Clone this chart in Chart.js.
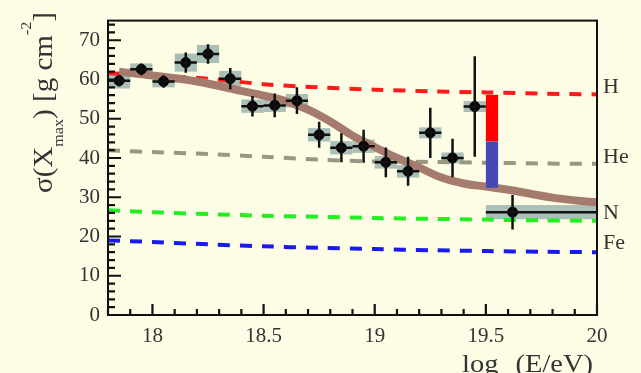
<!DOCTYPE html>
<html>
<head>
<meta charset="utf-8">
<script src="https://cdn.jsdelivr.net/npm/chart.js@4.4.1/dist/chart.umd.min.js"></script>
<style>
  html, body { margin: 0; padding: 0; background: #fdfde6; }
  canvas { display: block; }
</style>
</head>
<body>
<canvas id="c" width="641" height="373"></canvas>
<script>
// measured points
const energy = [17.85, 17.95, 18.05, 18.15, 18.25, 18.35, 18.45, 18.55, 18.65, 18.75, 18.85, 18.95, 19.05, 19.15, 19.25, 19.35, 19.45, 19.62];
const binLo  = [17.80, 17.90, 18.00, 18.10, 18.20, 18.30, 18.40, 18.50, 18.60, 18.70, 18.80, 18.90, 19.00, 19.10, 19.20, 19.30, 19.40, 19.50];
const binHi  = [17.90, 18.00, 18.10, 18.20, 18.30, 18.40, 18.50, 18.60, 18.70, 18.80, 18.90, 19.00, 19.10, 19.20, 19.30, 19.40, 19.50, 20.00];
const sigma  = [59.7, 62.6, 59.5, 64.3, 66.5, 60.2, 53.2, 53.4, 54.6, 45.9, 42.6, 43.0, 38.9, 36.6, 46.4, 40.0, 53.1, 26.2];
const statErr = [1.5, 1.5, 1.6, 2.6, 2.5, 2.7, 2.6, 3.0, 3.4, 3.3, 3.7, 4.2, 3.8, 3.7, 6.4, 4.9, 12.8, 4.4];
const sysErr  = [2.0, 1.5, 1.5, 2.3, 2.3, 2.0, 1.7, 1.7, 1.7, 1.7, 1.7, 1.7, 1.6, 1.6, 1.4, 1.4, 1.4, 1.8];

// model predictions
const modelE = [17.8, 18.0, 18.25, 18.5, 18.75, 19.0, 19.25, 19.5, 19.75, 20.0];
const protonH = [61.6, 61.0, 60.2, 58.8, 58.0, 57.4, 57.0, 56.7, 56.4, 56.2];
const heliumHe = [42.0, 41.5, 41.0, 40.3, 39.6, 39.1, 39.0, 38.8, 38.6, 38.5];
const nitrogenN = [26.7, 26.2, 25.7, 25.3, 25.0, 24.7, 24.5, 24.3, 24.1, 24.0];
const ironFe = [19.0, 18.6, 18.0, 17.5, 17.1, 16.8, 16.5, 16.3, 16.1, 16.0];

// fitted mixture curve
const fitE = [17.85, 18.0, 18.2, 18.4, 18.5, 18.6, 18.7, 18.8, 18.9, 19.0, 19.1, 19.2, 19.3, 19.4, 19.5, 19.6, 19.7, 19.8, 19.9, 20.0];
const fitSigma = [62.0, 61.0, 59.5, 57.1, 55.9, 54.5, 52.3, 49.3, 45.7, 42.8, 40.0, 37.6, 35.0, 33.5, 32.7, 31.9, 30.9, 29.9, 29.2, 28.7];

// p / He fraction bar
const fracBarE = [19.5, 19.555];
const fracRed = [44.2, 56.1];
const fracBlue = [32.4, 44.2];

// labels
const xTicks = [18, 18.5, 19, 19.5, 20];
const yTicks = [0, 10, 20, 30, 40, 50, 60, 70];
const compLabels = ["H", "He", "N", "Fe"];
const compLabelY = [58.0, 40.1, 26.0, 18.3];

const SERIF = "'Liberation Serif', 'Times New Roman', serif";
const pts = (xs, ys) => xs.map((x, i) => ({ x, y: ys[i] }));

function dashed(data, color) {
  return {
    data: pts(modelE, data),
    borderColor: color,
    borderWidth: 4,
    borderDash: [12, 10],
    pointRadius: 0,
    tension: 0.3,
    fill: false
  };
}

function richWidth(ctx, parts, big, small) {
  let w = 0;
  parts.forEach(([t, k]) => {
    ctx.font = (k === 0 ? big : small) + "px " + SERIF;
    w += ctx.measureText(t).width;
  });
  return w;
}

function drawRich(ctx, parts, big, small, subDy, supDy) {
  let x = 0;
  parts.forEach(([t, k]) => {
    ctx.font = (k === 0 ? big : small) + "px " + SERIF;
    const dy = k === 1 ? subDy : (k === -1 ? supDy : 0);
    ctx.fillText(t, x, dy);
    x += ctx.measureText(t).width;
  });
}

const decorPlugin = {
  id: "decor",
  beforeDraw(chart) {
    const ctx = chart.ctx;
    ctx.save();
    ctx.fillStyle = "#fdfde6";
    ctx.fillRect(0, 0, chart.width, chart.height);
    ctx.restore();
  },
  beforeDatasetsDraw(chart) {
    const { ctx, scales: { x, y } } = chart;
    ctx.save();
    ctx.fillStyle = "#aabfb5";
    energy.forEach((e, i) => {
      const x1 = x.getPixelForValue(binLo[i]);
      const x2 = x.getPixelForValue(binHi[i]);
      const y1 = y.getPixelForValue(sigma[i] + sysErr[i]);
      const y2 = y.getPixelForValue(sigma[i] - sysErr[i]);
      ctx.fillRect(x1, y1, x2 - x1, y2 - y1);
    });
    ctx.restore();
  },
  afterDatasetsDraw(chart) {
    const { ctx, scales: { x, y } } = chart;
    ctx.save();
    // error bars
    ctx.strokeStyle = "#111";
    ctx.lineWidth = 2.5;
    ctx.beginPath();
    energy.forEach((e, i) => {
      const px = x.getPixelForValue(e);
      const py = y.getPixelForValue(sigma[i]);
      ctx.moveTo(px, y.getPixelForValue(sigma[i] + statErr[i]));
      ctx.lineTo(px, y.getPixelForValue(sigma[i] - statErr[i]));
      ctx.moveTo(x.getPixelForValue(binLo[i]), py);
      ctx.lineTo(x.getPixelForValue(binHi[i]), py);
    });
    ctx.stroke();
    // fraction bar
    const bx1 = x.getPixelForValue(fracBarE[0]);
    const bx2 = x.getPixelForValue(fracBarE[1]);
    ctx.fillStyle = "#ff0000";
    ctx.fillRect(bx1, y.getPixelForValue(fracRed[1]), bx2 - bx1,
      y.getPixelForValue(fracRed[0]) - y.getPixelForValue(fracRed[1]));
    ctx.fillStyle = "#4747b5";
    ctx.fillRect(bx1, y.getPixelForValue(fracBlue[1]), bx2 - bx1,
      y.getPixelForValue(fracBlue[0]) - y.getPixelForValue(fracBlue[1]));
    ctx.restore();
  },
  afterDraw(chart) {
    const { ctx, chartArea: a, scales: { x, y } } = chart;
    ctx.save();
    ctx.strokeStyle = "#111";
    ctx.lineWidth = 2;
    ctx.strokeRect(a.left, a.top, a.right - a.left, a.bottom - a.top);
    // inward ticks
    ctx.lineWidth = 2.2;
    ctx.beginPath();
    for (let v = 0; v <= 74; v += 2) {
      const py = y.getPixelForValue(v);
      const len = v % 10 === 0 ? 13 : 7;
      ctx.moveTo(a.left, py);
      ctx.lineTo(a.left + len, py);
    }
    for (let k = 0; k <= 22; k++) {
      const v = 17.8 + k * 0.1;
      const px = x.getPixelForValue(v);
      const major = Math.abs(v * 2 - Math.round(v * 2)) < 1e-6;
      ctx.moveTo(px, a.bottom);
      ctx.lineTo(px, a.bottom - (major ? 11 : 6));
    }
    ctx.stroke();

    // component labels
    ctx.fillStyle = "#333";
    ctx.font = "22px " + SERIF;
    ctx.textBaseline = "middle";
    ctx.textAlign = "left";
    compLabels.forEach((t, i) => {
      ctx.fillText(t, a.right + 6, y.getPixelForValue(compLabelY[i]));
    });

    // axis titles
    ctx.textBaseline = "alphabetic";
    const yParts = [["σ(X", 0], ["max", 1], [") [g cm", 0], ["-2", -1], ["]", 0]];
    ctx.save();
    ctx.translate(52, 193);
    ctx.rotate(-Math.PI / 2);
    const yw = richWidth(ctx, yParts, 27, 15);
    ctx.scale(181 / yw, 1);
    drawRich(ctx, yParts, 27, 15, 11, -21);
    ctx.restore();

    const xParts = [["log", 0], ["10", 1], ["(E/eV)", 0]];
    ctx.save();
    ctx.translate(462, 372);
    const xw = richWidth(ctx, xParts, 25, 15);
    ctx.scale(131 / xw, 1);
    drawRich(ctx, xParts, 25, 15, 11, -10);
    ctx.restore();
    ctx.restore();
  }
};

new Chart(document.getElementById("c"), {
  type: "line",
  data: {
    datasets: [
      {
        data: pts(energy, sigma),
        showLine: false,
        pointRadius: 5,
        pointHoverRadius: 5,
        pointBackgroundColor: "#000",
        pointBorderColor: "#000"
      },
      {
        data: pts(fitE, fitSigma),
        borderColor: "#a57b6d",
        borderWidth: 8,
        pointRadius: 0,
        tension: 0.4,
        fill: false
      },
      dashed(protonH, "#ff1a1a"),
      dashed(heliumHe, "#9a9684"),
      dashed(nitrogenN, "#22ee22"),
      dashed(ironFe, "#1a1aee")
    ]
  },
  options: {
    responsive: false,
    animation: false,
    events: [],
    layout: { padding: { top: 9, right: 44, left: 0, bottom: 0 } },
    plugins: { legend: { display: false }, tooltip: { enabled: false } },
    scales: {
      x: {
        type: "linear",
        min: 17.8,
        max: 20,
        grid: { display: false, drawTicks: false },
        border: { display: false },
        afterBuildTicks: s => { s.ticks = xTicks.map(v => ({ value: v })); },
        afterFit: s => { s.height = 58; },
        ticks: {
          padding: 9,
          color: "#333",
          font: { family: SERIF, size: 21 },
          maxRotation: 0,
          callback: v => String(v)
        }
      },
      y: {
        type: "linear",
        min: 0,
        max: 75,
        grid: { display: false, drawTicks: false },
        border: { display: false },
        afterBuildTicks: s => { s.ticks = yTicks.map(v => ({ value: v })); },
        afterFit: s => { s.width = 108; },
        ticks: {
          padding: 8,
          color: "#333",
          font: { family: SERIF, size: 21 },
          callback: v => String(v)
        }
      }
    }
  },
  plugins: [decorPlugin]
});
</script>
</body>
</html>
